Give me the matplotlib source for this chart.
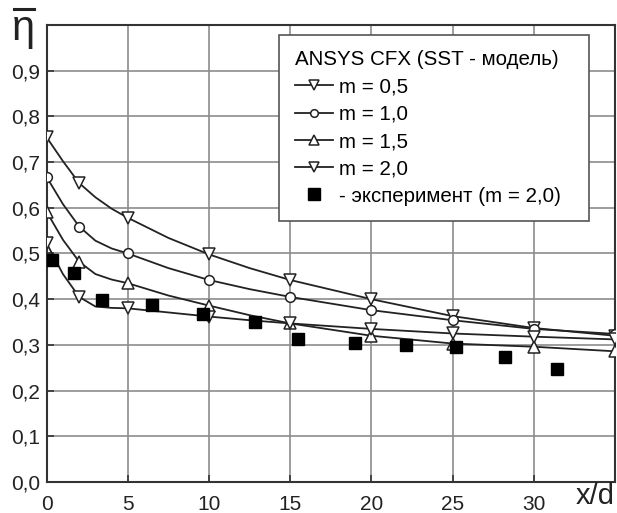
import matplotlib
matplotlib.use("Agg")
import matplotlib.pyplot as plt
from matplotlib.lines import Line2D
from matplotlib.ticker import FuncFormatter

plt.rcParams['font.family'] = ['Liberation Sans', 'DejaVu Sans']

# marker positions (x/d) for the CFX curves
x_mark = [0, 2, 5, 10, 15, 20, 25, 30, 35]
m05_mark = [0.754, 0.654, 0.578, 0.498, 0.442, 0.400, 0.363, 0.337, 0.320]
m10_mark = [0.667, 0.559, 0.500, 0.442, 0.405, 0.376, 0.354, 0.335, 0.324]
m15_mark = [0.591, 0.482, 0.435, 0.386, 0.347, 0.320, 0.303, 0.296, 0.286]
m20_mark = [0.522, 0.405, 0.380, 0.362, 0.347, 0.335, 0.325, 0.318, 0.312]

# points
x_line = [0, 1, 2, 3, 4, 5, 7.5, 10, 12.5, 15, 20, 25, 30, 35]
m05_line = [0.754, 0.702, 0.654, 0.623, 0.598, 0.578, 0.534, 0.498, 0.468, 0.442, 0.400, 0.363, 0.337, 0.320]
m10_line = [0.667, 0.608, 0.559, 0.528, 0.511, 0.500, 0.468, 0.442, 0.422, 0.405, 0.376, 0.354, 0.335, 0.324]
m15_line = [0.591, 0.530, 0.482, 0.455, 0.443, 0.435, 0.408, 0.386, 0.365, 0.347, 0.320, 0.303, 0.296, 0.286]
m20_line = [0.522, 0.455, 0.405, 0.384, 0.381, 0.380, 0.371, 0.362, 0.354, 0.347, 0.335, 0.325, 0.318, 0.312]

# experiment, m = 2,0
x_exp = [0.3, 1.7, 3.4, 6.5, 9.6, 12.8, 15.5, 19.0, 22.1, 25.2, 28.2, 31.4]
y_exp = [0.486, 0.457, 0.398, 0.388, 0.368, 0.351, 0.314, 0.305, 0.300, 0.296, 0.273, 0.247]

labels = ['m = 0,5', 'm = 1,0', 'm = 1,5', 'm = 2,0']
markers = ['v', 'o', '^', 'v']
msizes = [8, 7, 8, 8]

fig = plt.figure(figsize=(6.17, 5.13), dpi=100)
ax = fig.add_axes([0.0757, 0.0604, 0.921, 0.8909])

lines = [m05_line, m10_line, m15_line, m20_line]
marks = [m05_mark, m10_mark, m15_mark, m20_mark]
handles = []
for yl, ym, mk, ms, lab in zip(lines, marks, markers, msizes, labels):
    ax.plot(x_line, yl, color='#222222', lw=1.3, zorder=3)
    ax.plot(x_mark, ym, ls='none', marker=mk, ms=ms, mfc='white', mec='#222222', mew=1.1, zorder=4)
    h, = ax.plot([], [], color='#222222', lw=1.3, marker=mk, ms=ms - 1.5, mfc='white', mec='#222222', mew=1.1, label=lab)
    handles.append(h)

ax.plot(x_exp, y_exp, ls='none', marker='s', ms=8.5, color='black', zorder=5)
h_exp, = ax.plot([], [], ls='none', marker='s', ms=8, color='black', label='- эксперимент (m = 2,0)')
handles.append(h_exp)

ax.set_xlim(0, 35)
ax.set_ylim(0, 1.0)
ax.set_xticks([0, 5, 10, 15, 20, 25, 30])
ax.set_yticks([0.0, 0.1, 0.2, 0.3, 0.4, 0.5, 0.6, 0.7, 0.8, 0.9, 1.0])
ax.yaxis.set_major_formatter(FuncFormatter(lambda v, p: '' if v > 0.95 else ('%.1f' % v).replace('.', ',')))
ax.grid(True, color='#8c8c8c', lw=1.2)
ax.set_axisbelow(True)
ax.tick_params(direction='in', length=5, width=1.2, colors='#333333', labelsize=15, labelcolor='#222222')
ax.tick_params(axis='x', pad=9)
ax.tick_params(axis='y', pad=5)
for s in ax.spines.values():
    s.set_linewidth(1.5)
    s.set_color('#333333')

# eta with an overbar, upright
fig.text(0.020, 0.922, 'η', fontsize=30, va='baseline', ha='left', color='#222222')
fig.add_artist(Line2D([0.023, 0.055], [0.983, 0.983], transform=fig.transFigure, color='#222222', lw=2.2))
fig.text(0.996, 0.006, 'x/d', fontsize=21, ha='right', va='bottom', color='#222222')

leg = ax.legend(handles=handles, title='ANSYS CFX (SST - модель)', loc='upper left',
                bbox_to_anchor=(0.409, 0.58, 0.545, 0.398), mode='expand',
                fontsize=14.8, title_fontsize=14.8, frameon=True, fancybox=False,
                handlelength=1.85, handletextpad=0.3, labelspacing=0.4,
                borderpad=0.75, borderaxespad=0)
leg._legend_box.align = 'left'
leg.get_frame().set_edgecolor('#555555')
leg.get_frame().set_linewidth(1.2)
leg.get_frame().set_alpha(1)
leg.set_zorder(10)

fig.savefig('out.png', dpi=100, facecolor='white')
